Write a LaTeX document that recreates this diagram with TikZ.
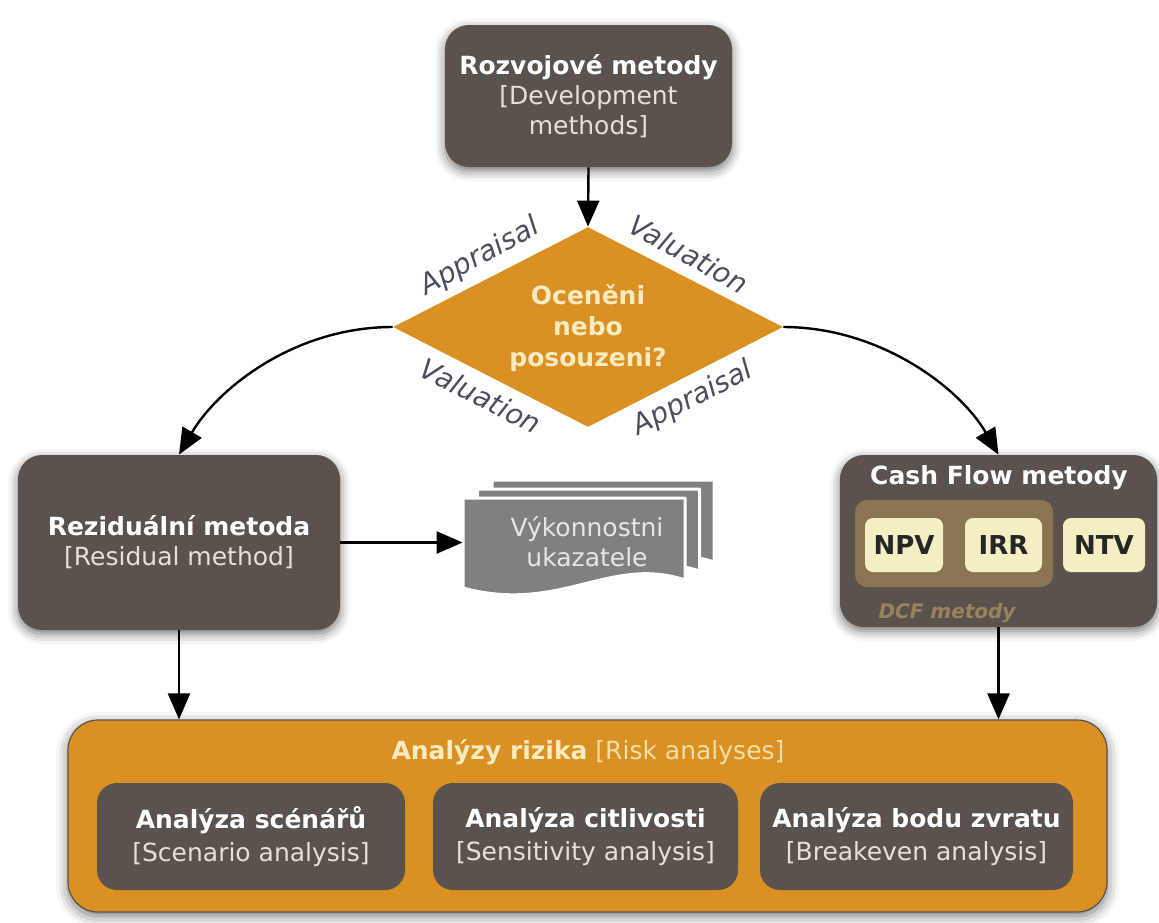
\documentclass[tikz,border=0pt]{standalone}
\usepackage{fontspec}
\setmainfont{DejaVu Sans}
\usetikzlibrary{shapes.geometric,arrows.meta,shadows.blur}
\definecolor{boxdark}{HTML}{5A534D}
\definecolor{orng}{HTML}{DA9023}
\definecolor{cream}{HTML}{F8EBC0}
\definecolor{cream2}{HTML}{F3DFA8}
\definecolor{lbl}{HTML}{4B4E5E}
\definecolor{docgray}{HTML}{808080}
\definecolor{doctext}{HTML}{E6E6E6}
\definecolor{dcf}{HTML}{8A7451}
\definecolor{dcftext}{HTML}{98835C}
\definecolor{chip}{HTML}{F3EFC3}
\definecolor{subt}{HTML}{E6E0DA}
\begin{document}
\begin{tikzpicture}[x=0.5pt,y=-0.5pt,
  font=\fontsize{12.5pt}{15pt}\selectfont,
  darkbox/.style={fill=boxdark, rounded corners=12pt, align=center, text=white, inner sep=0pt,
    blur shadow={shadow xshift=0pt, shadow yshift=-2pt, shadow blur radius=5pt, shadow opacity=55}},
  innerbox/.style={fill=boxdark, rounded corners=10pt, align=center, text=white, inner sep=0pt,
    minimum height=53.5pt, font=\fontsize{12.5pt}{16.5pt}\selectfont},
  chipbox/.style={fill=chip, rounded corners=4pt, inner sep=0pt, minimum height=27pt,
    text=black!85, font=\fontsize{13pt}{15pt}\selectfont\bfseries},
  edgelbl/.style={text=lbl, inner sep=0pt, font=\fontsize{14pt}{16pt}\selectfont\itshape},
  arr/.style={-{Triangle[length=13pt,width=11pt]}, line width=1.2pt, black},
  page/.style={draw=white, line width=1.5pt, fill=docgray, line join=round}
]
\useasboundingbox (0,0) rectangle (1159,922);

% top box
\node[darkbox, minimum width=143.5pt, minimum height=71pt] (dev) at (588.5,96)
  {\textbf{Rozvojové metody}\\\textcolor{subt}{[Development}\\\textcolor{subt}{methods]}};

% diamond
\node[diamond, fill=orng, minimum width=195pt, minimum height=100pt, inner sep=0pt, aspect=1.95] (q) at (588,327) {};
\node[text=cream, align=center, font=\fontsize{12.5pt}{15.5pt}\selectfont\bfseries] (qt) at (588,328)
  {Oceněni\\nebo\\posouzeni?};

\node[edgelbl, rotate=29] (l1) at (480,257) {Appraisal};
\node[edgelbl, rotate=-29] (l2) at (689,254) {Valuation};
\node[edgelbl, rotate=-27] (l3) at (481,396) {Valuation};
\node[edgelbl, rotate=27] (l4) at (693,399) {Appraisal};

% left box
\node[darkbox, minimum width=161pt, minimum height=87.5pt] (res) at (179,542.5)
  {\textbf{Reziduální metoda}\\\textcolor{subt}{[Residual method]}};

% document stack
\foreach \dx/\dy in {29/-18, 14.5/-9, 0/0}{
  \draw[page, shift={(\dx,\dy)}] (463,498) -- (685,498) -- (685,580)
    .. controls (610,555) and (560,614) .. (463,588) -- cycle;
}
\node[inner sep=0pt, minimum width=111pt, minimum height=46pt] (doc) at (574,542) {};
\node[text=doctext, align=center, font=\fontsize{12.5pt}{15pt}\selectfont] (dtext) at (587,542)
  {Výkonnostni\\ukazatele};

% right box
\node[darkbox, minimum width=158.5pt, minimum height=86pt] (cf) at (998.5,541) {};
\node[text=white, font=\fontsize{12.5pt}{15pt}\selectfont\bfseries] (cft) at (999,478) {Cash Flow metody};
\node[fill=dcf, rounded corners=6pt, inner sep=0pt, minimum width=99pt, minimum height=43.5pt] (dcfg) at (954,543.5) {};
\node[chipbox, minimum width=39pt] (npv) at (904,545) {NPV};
\node[chipbox, minimum width=38.5pt] (irr) at (1003.5,545) {IRR};
\node[chipbox, minimum width=41pt] (ntv) at (1104,545) {NTV};
\node[text=dcftext, font=\fontsize{10pt}{12pt}\selectfont\bfseries\itshape] (dcft) at (947,613) {DCF metody};

% bottom box
\node[fill=orng, draw=boxdark, line width=0.6pt, rounded corners=15pt, inner sep=0pt,
  minimum width=519.5pt, minimum height=96pt,
  blur shadow={shadow xshift=0pt, shadow yshift=-2pt, shadow blur radius=6pt, shadow opacity=55}] (risk) at (587.5,816) {};
\node[font=\fontsize{12.5pt}{15pt}\selectfont] (riskt) at (588,752)
  {\textcolor{cream}{\textbf{Analýzy rizika}} \textcolor{cream2}{[Risk analyses]}};
\node[innerbox, minimum width=154pt] (sc) at (251,836.5)
  {\textbf{Analýza scénářů}\\\textcolor{subt}{[Scenario analysis]}};
\node[innerbox, minimum width=152.5pt] (se) at (585.5,836.5)
  {\textbf{Analýza citlivosti}\\\textcolor{subt}{[Sensitivity analysis]}};
\node[innerbox, minimum width=156.5pt] (be) at (916.5,836.5)
  {\textbf{Analýza bodu zvratu}\\\textcolor{subt}{[Breakeven analysis]}};

% connectors
\draw[arr] (dev.south) -- (q.north);
\draw[arr] (q.west) .. controls (295,327) and (218,388) .. (res.north);
\draw[arr] (q.east) .. controls (880,327) and (960,388) .. (cf.north);
\draw[arr] (res.east) -- (res.east -| doc.west);
\draw[arr] (res.south) -- (res.south |- risk.north);
\draw[arr] (cf.south) -- (cf.south |- risk.north);
\end{tikzpicture}
\end{document}
